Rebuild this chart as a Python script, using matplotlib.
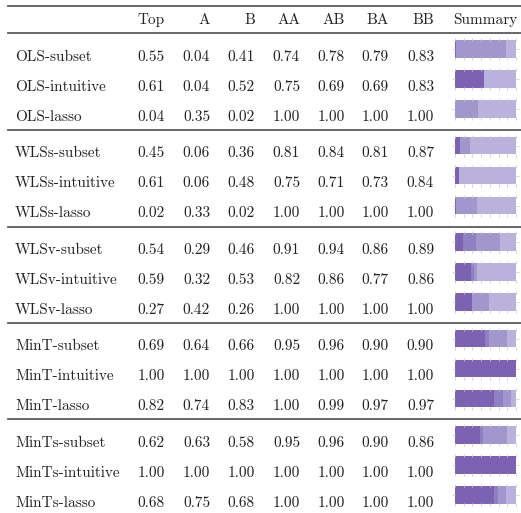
import numpy as np
import matplotlib
matplotlib.use("Agg")
import matplotlib.pyplot as plt

plt.rcParams["font.family"] = ["cmr10", "DejaVu Serif"]
plt.rcParams["axes.formatter.use_mathtext"] = True

# ---- table data ----
columns = ["Top", "A", "B", "AA", "AB", "BA", "BB"]
methods = [
    "OLS-subset", "OLS-intuitive", "OLS-lasso",
    "WLSs-subset", "WLSs-intuitive", "WLSs-lasso",
    "WLSv-subset", "WLSv-intuitive", "WLSv-lasso",
    "MinT-subset", "MinT-intuitive", "MinT-lasso",
    "MinTs-subset", "MinTs-intuitive", "MinTs-lasso",
]
values = [
    [0.55, 0.04, 0.41, 0.74, 0.78, 0.79, 0.83],
    [0.61, 0.04, 0.52, 0.75, 0.69, 0.69, 0.83],
    [0.04, 0.35, 0.02, 1.00, 1.00, 1.00, 1.00],
    [0.45, 0.06, 0.36, 0.81, 0.84, 0.81, 0.87],
    [0.61, 0.06, 0.48, 0.75, 0.71, 0.73, 0.84],
    [0.02, 0.33, 0.02, 1.00, 1.00, 1.00, 1.00],
    [0.54, 0.29, 0.46, 0.91, 0.94, 0.86, 0.89],
    [0.59, 0.32, 0.53, 0.82, 0.86, 0.77, 0.86],
    [0.27, 0.42, 0.26, 1.00, 1.00, 1.00, 1.00],
    [0.69, 0.64, 0.66, 0.95, 0.96, 0.90, 0.90],
    [1.00, 1.00, 1.00, 1.00, 1.00, 1.00, 1.00],
    [0.82, 0.74, 0.83, 1.00, 0.99, 0.97, 0.97],
    [0.62, 0.63, 0.58, 0.95, 0.96, 0.90, 0.86],
    [1.00, 1.00, 1.00, 1.00, 1.00, 1.00, 1.00],
    [0.68, 0.75, 0.68, 1.00, 1.00, 1.00, 1.00],
]

# ---- summary bar segments (share of width, dark -> light) ----
seg_dark = [0.01, 0.47, 0.00, 0.08, 0.07, 0.015, 0.13, 0.27, 0.28, 0.49, 1.00, 0.645, 0.41, 1.00, 0.645]
seg_mdark = [0.00, 0.00, 0.00, 0.00, 0.00, 0.00, 0.21, 0.04, 0.00, 0.07, 0.00, 0.135, 0.05, 0.00, 0.065]
seg_mid = [0.83, 0.00, 0.37, 0.17, 0.00, 0.345, 0.40, 0.05, 0.28, 0.29, 0.00, 0.14, 0.39, 0.00, 0.13]
seg_light = [0.16, 0.53, 0.63, 0.75, 0.93, 0.64, 0.26, 0.64, 0.44, 0.15, 0.00, 0.08, 0.15, 0.00, 0.16]
seg_colors = ["#7b62b2", "#8f80c1", "#a297cd", "#bab2dd"]

W, H = 521, 513
fig = plt.figure(figsize=(W / 100, H / 100), dpi=100)
ax = fig.add_axes([0, 0, 1, 1])
ax.set_xlim(0, W)
ax.set_ylim(H, 0)
ax.axis("off")

txt = "#222222"
fs = 11
col_right = [165, 210, 255, 300, 345, 389, 434]

# rules
rule_kw = dict(color="#5a5a5a", lw=1.3)
for y in [5.5, 33, 130, 227, 323, 419]:
    ax.plot([8, W], [y, y], **rule_kw)

# header
header_y = 20
for c, x in zip(columns, col_right):
    ax.text(x, header_y, c, ha="right", va="center", fontsize=fs, color=txt)
ax.text(453, header_y, "Summary", ha="left", va="center", fontsize=fs, color=txt)

# rows
row_y = []
for g in range(5):
    base = 33 + g * 96.5 + 24
    row_y += [base, base + 30, base + 60]

for i, (m, vals) in enumerate(zip(methods, values)):
    y = row_y[i]
    ax.text(15, y, m, ha="left", va="center", fontsize=fs, color=txt)
    for v, x in zip(vals, col_right):
        ax.text(x, y, f"{v:.2f}", ha="right", va="center", fontsize=fs, color=txt)

    # mini stacked bar
    cy = y - 8
    bax = fig.add_axes([455 / W, 1 - (cy + 11) / H, 61 / W, 22 / H])
    left = 0.0
    for seg, col in zip([seg_dark[i], seg_mdark[i], seg_mid[i], seg_light[i]], seg_colors):
        if seg > 0:
            bax.barh(0, seg, left=left, height=0.78, color=col, edgecolor="none")
        left += seg
    bax.set_xlim(0, 1)
    bax.set_ylim(-0.5, 0.5)
    for s in bax.spines.values():
        s.set_visible(False)
    bax.set_xticks(np.linspace(0, 1, 8))
    bax.set_yticks([0])
    bax.tick_params(axis="x", direction="in", length=2.5, width=0.6, color="#cccccc",
                    top=True, bottom=True, labelbottom=False, labeltop=False)
    bax.tick_params(axis="y", direction="out", length=2.5, width=0.6, color="#cccccc",
                    left=True, right=True, labelleft=False, labelright=False)
    bax.set_facecolor("none")

fig.savefig("out.png", dpi=100, facecolor="white")
